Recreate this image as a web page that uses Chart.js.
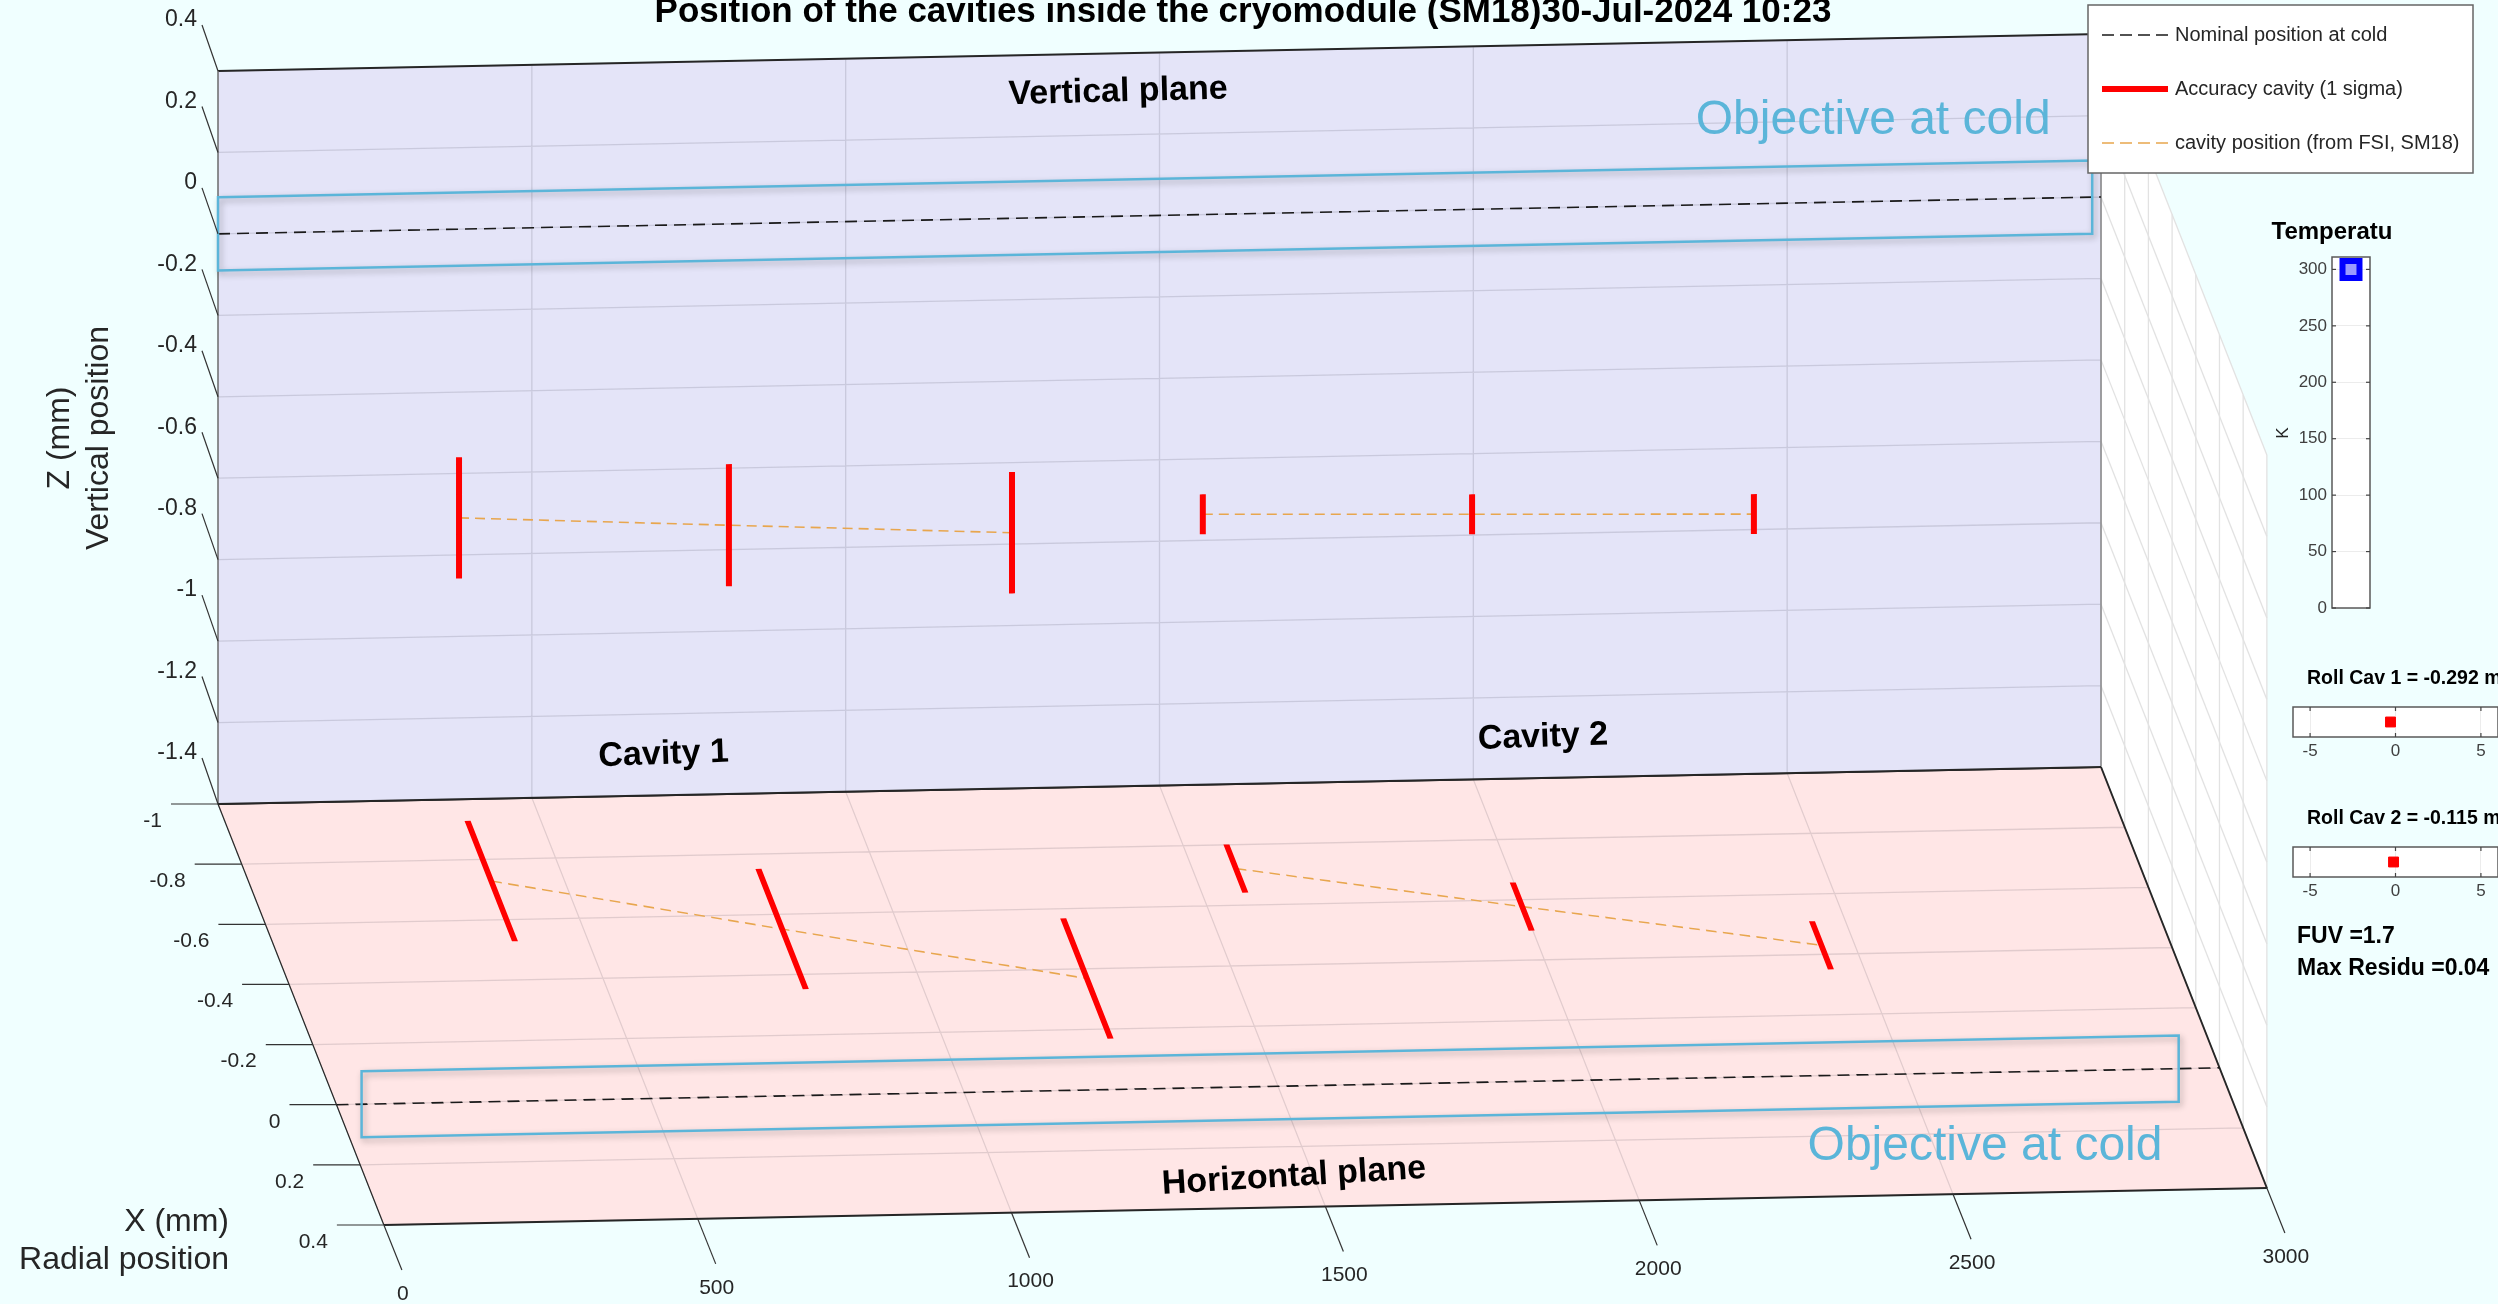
<!DOCTYPE html>
<html lang="en">
<head>
<meta charset="UTF-8">
<title>Position of the cavities inside the cryomodule</title>
<script src="https://cdn.jsdelivr.net/npm/chart.js"></script>
<style>
    html, body { margin: 0; padding: 0; overflow: hidden; background: #F0FFFF; }
    body { width: 2498px; height: 1304px; position: relative; font-family: "Liberation Sans", Arial, sans-serif; }
    canvas { position: absolute; }
    .note { position: absolute; left: 2297px; font-weight: bold; font-size: 23px; line-height: 28px; color: #000; white-space: nowrap; }
</style>
</head>
<body>
<canvas id="floor" width="2498" height="1304" style="left:0;top:0"></canvas>
<canvas id="back" width="2498" height="1304" style="left:0;top:0"></canvas>
<canvas id="temp" width="160" height="430" style="left:2240px;top:200px"></canvas>
<canvas id="roll1" width="270" height="120" style="left:2270px;top:650px"></canvas>
<canvas id="roll2" width="270" height="120" style="left:2270px;top:790px"></canvas>
<div class="note" style="top:921px">FUV =1.7</div>
<div class="note" style="top:953px">Max Residu =0.04</div>

<script>
// ---- data ----
const lengthTicks = [0, 500, 1000, 1500, 2000, 2500, 3000];
const zTicks = [-1.4, -1.2, -1, -0.8, -0.6, -0.4, -0.2, 0, 0.2, 0.4];
const xTicks = [-1, -0.8, -0.6, -0.4, -0.2, 0, 0.2, 0.4];

const cavity       = [1, 1, 1, 2, 2, 2];
const cavityLength = [384, 814, 1265, 1569, 1998, 2447];
const cavityZ      = [-0.709, -0.740, -0.772, -0.736, -0.749, -0.762];
const sigmaZ       = [0.149, 0.150, 0.149, 0.049, 0.049, 0.049];
const cavityX      = [-0.728, -0.551, -0.368, -0.721, -0.577, -0.430];
const sigmaX       = [0.20, 0.20, 0.20, 0.08, 0.08, 0.08];

const nominalLength = [0, 3000];
const nominalZ = [0, 0];
const nominalX = [0, 0];

// "Objective at cold" boxes
const objectiveLengthZ = [0, 2986];
const objectiveZ = [-0.09, 0.09];
const objectiveLengthX = [40, 2935];
const objectiveX = [-0.11, 0.11];

const temperatureK = [300];
const tempTicks = [0, 50, 100, 150, 200, 250, 300];
const rollCav = [-0.292, -0.115];
const rollTicks = [-5, 0, 5];

// ---- look ----
const FONT = '"Liberation Sans", Arial, Helvetica, sans-serif';
const INK = '#262626';
const LAVENDER = '#E4E4F8';
const PINK = '#FFE6E6';
const GRID = 'rgba(40, 40, 60, 0.14)';
const EDGE = '#262626';
const CYAN = '#5BB5D9';
const ORANGE = '#E8A64E';

// 3-D view: long axis tilts up to the right, radial axis runs down-right
const SHEAR_Y = -0.0196;
const SKEW_X = 0.394;

function backTransform(ctx, a) { ctx.transform(1, SHEAR_Y, 0, 1, 0, -SHEAR_Y * a.left); }
function floorTransform(ctx, a) { ctx.transform(1, SHEAR_Y, SKEW_X, 1, -SKEW_X * a.top, -SHEAR_Y * a.left); }

function backPt(chart, L, z) {
    const a = chart.chartArea;
    const px = chart.scales.x.getPixelForValue(L), py = chart.scales.y.getPixelForValue(z);
    return { x: px, y: py + SHEAR_Y * (px - a.left) };
}
function floorPt(chart, L, r) {
    const a = chart.chartArea;
    const px = chart.scales.x.getPixelForValue(L), py = chart.scales.y.getPixelForValue(r);
    return { x: px + SKEW_X * (py - a.top), y: py + SHEAR_Y * (px - a.left) };
}

function text(ctx, str, x, y, o) {
    ctx.save();
    ctx.font = o.font;
    ctx.fillStyle = o.color || INK;
    ctx.textAlign = o.align || 'center';
    ctx.textBaseline = o.baseline || 'middle';
    ctx.translate(x, y);
    if (o.angle) ctx.rotate(o.angle * Math.PI / 180);
    ctx.fillText(str, 0, 0);
    ctx.restore();
}
function stroke(ctx, pts, color, width, dash) {
    ctx.save();
    ctx.strokeStyle = color; ctx.lineWidth = width; ctx.setLineDash(dash || []);
    ctx.beginPath();
    pts.forEach((p, i) => i ? ctx.lineTo(p[0], p[1]) : ctx.moveTo(p[0], p[1]));
    ctx.stroke();
    ctx.restore();
}
function objectiveBox(ctx, c) {
    ctx.save();
    ctx.shadowColor = 'rgba(0,0,0,0.3)'; ctx.shadowBlur = 6; ctx.shadowOffsetX = 2; ctx.shadowOffsetY = 3;
    ctx.strokeStyle = CYAN; ctx.lineWidth = 2.5;
    ctx.beginPath();
    c.forEach((p, i) => i ? ctx.lineTo(p.x, p.y) : ctx.moveTo(p.x, p.y));
    ctx.closePath(); ctx.stroke();
    ctx.restore();
}
const tickLabel = v => String(Math.round(v * 10) / 10);

// ---- datasets ----
function bars(center, sigma) {
    const pts = [];
    cavityLength.forEach((L, i) => {
        pts.push({ x: L, y: center[i] + sigma[i] }, { x: L, y: center[i] - sigma[i] }, { x: L, y: null });
    });
    return pts;
}
function track(center) {
    const pts = [];
    cavityLength.forEach((L, i) => {
        if (i > 0 && cavity[i] !== cavity[i - 1]) pts.push({ x: L, y: null });
        pts.push({ x: L, y: center[i] });
    });
    return pts;
}
const lineSet = (data, color, width, dash) => ({
    data, showLine: true, borderColor: color, borderWidth: width, borderDash: dash || [],
    pointRadius: 0, clip: false, borderCapStyle: 'butt'
});
const noChrome = { legend: { display: false }, tooltip: { enabled: false } };

// ---- vertical plane (back wall) ----
const backPlane = {
    id: 'backPlane',
    beforeDatasetsDraw(chart) {
        const { ctx, chartArea: a, scales: { x, y } } = chart;
        ctx.save();
        backTransform(ctx, a);
        ctx.fillStyle = LAVENDER;
        ctx.fillRect(a.left, a.top, a.width, a.height);
        ctx.strokeStyle = GRID; ctx.lineWidth = 1.3;
        ctx.beginPath();
        zTicks.forEach(v => { const py = y.getPixelForValue(v); ctx.moveTo(a.left, py); ctx.lineTo(a.right, py); });
        lengthTicks.forEach(v => { const px = x.getPixelForValue(v); ctx.moveTo(px, a.top); ctx.lineTo(px, a.bottom); });
        ctx.stroke();
        stroke(ctx, [[a.left, a.top], [a.right, a.top]], EDGE, 2);
        stroke(ctx, [[a.left, a.top], [a.left, a.bottom]], '#707070', 1.5);
        stroke(ctx, [[a.right, a.top], [a.right, a.bottom]], '#8a8a8a', 1.5);
        stroke(ctx, [[a.left, a.bottom], [a.right, a.bottom]], EDGE, 2);
        ctx.restore();
    },
    beforeDatasetDraw(chart) { chart.ctx.save(); backTransform(chart.ctx, chart.chartArea); },
    afterDatasetDraw(chart) { chart.ctx.restore(); },
    afterDatasetsDraw(chart) {
        const { ctx, chartArea: a, scales: { y } } = chart;

        objectiveBox(ctx, [
            backPt(chart, objectiveLengthZ[0], objectiveZ[1]), backPt(chart, objectiveLengthZ[1], objectiveZ[1]),
            backPt(chart, objectiveLengthZ[1], objectiveZ[0]), backPt(chart, objectiveLengthZ[0], objectiveZ[0])
        ]);
        let p = backPt(chart, 2637, 0.198);
        text(ctx, 'Objective at cold', p.x, p.y, { font: `48px ${FONT}`, color: CYAN });

        const bold = `bold 34px ${FONT}`;
        p = backPt(chart, 1434, 0.305);
        text(ctx, 'Vertical plane', p.x, p.y, { font: bold, color: '#000', angle: -1.5 });
        p = backPt(chart, 710, -1.30);
        text(ctx, 'Cavity 1', p.x, p.y, { font: bold, color: '#000', angle: -2 });
        p = backPt(chart, 2111, -1.30);
        text(ctx, 'Cavity 2', p.x, p.y, { font: bold, color: '#000', angle: -2 });

        // Z ticks on the left edge
        zTicks.forEach(v => {
            const py = y.getPixelForValue(v);
            stroke(ctx, [[a.left, py], [a.left - 16, py - 46]], '#333', 1.2);
            text(ctx, tickLabel(v), a.left - 21, py - 51, { font: `23px ${FONT}`, align: 'right' });
        });
        text(ctx, 'Z (mm)', 60, 438, { font: `32px ${FONT}`, angle: -90 });
        text(ctx, 'Vertical position', 99, 438, { font: `32px ${FONT}`, angle: -90 });

        text(ctx, 'Position of the cavities inside the cryomodule (SM18)30-Jul-2024 10:23', 1243, 22,
            { font: `bold 35px ${FONT}`, color: '#000', baseline: 'alphabetic' });

        // legend
        ctx.fillStyle = '#fff';
        ctx.fillRect(2088, 5, 385, 168);
        ctx.strokeStyle = '#666'; ctx.lineWidth = 1.5;
        ctx.strokeRect(2088, 5, 385, 168);
        [['Nominal position at cold', '#1A1A1A', 1.6, [12, 6]],
         ['Accuracy cavity (1 sigma)', '#FF0000', 6, []],
         ['cavity position (from FSI, SM18)', ORANGE, 1.6, [12, 6]]].forEach((it, i) => {
            const ly = 35 + i * 54;
            stroke(ctx, [[2102, ly], [2168, ly]], it[1], it[2], it[3]);
            text(ctx, it[0], 2175, ly, { font: `20px ${FONT}`, align: 'left' });
        });
    }
};

const backChart = new Chart(document.getElementById('back'), {
    type: 'scatter',
    data: {
        datasets: [
            lineSet(bars(cavityZ, sigmaZ), '#FF0000', 6),
            lineSet(track(cavityZ), ORANGE, 1.6, [10, 6]),
            lineSet(nominalLength.map((L, i) => ({ x: L, y: nominalZ[i] })), '#1A1A1A', 1.6, [12, 7])
        ]
    },
    options: {
        responsive: false, animation: false,
        layout: { padding: { left: 218, top: 71, right: 2498 - 2101, bottom: 1304 - 804 } },
        plugins: noChrome,
        scales: {
            x: { type: 'linear', min: 0, max: 3000, display: false },
            y: { type: 'linear', min: -1.4, max: 0.4, display: false }
        }
    },
    plugins: [backPlane]
});

// ---- horizontal plane (floor) and end wall ----
const floorPlane = {
    id: 'floorPlane',
    beforeDatasetsDraw(chart) {
        const { ctx, chartArea: a, scales: { x, y } } = chart;
        const zs = backChart.scales.y;
        const lift = z => zs.getPixelForValue(z) - zs.getPixelForValue(zTicks[0]);
        const wall = (r, z) => { const f = floorPt(chart, 3000, r); return [f.x, f.y + lift(z)]; };
        const r0 = xTicks[0], r1 = xTicks[xTicks.length - 1];
        const z0 = zTicks[0], z1 = zTicks[zTicks.length - 1];

        // end wall at 3000 mm
        ctx.save();
        ctx.fillStyle = '#FFFFFF';
        ctx.beginPath();
        [wall(r0, z0), wall(r0, z1), wall(r1, z1), wall(r1, z0)].forEach((q, i) => i ? ctx.lineTo(q[0], q[1]) : ctx.moveTo(q[0], q[1]));
        ctx.closePath(); ctx.fill();
        ctx.restore();
        xTicks.forEach(r => stroke(ctx, [wall(r, z0), wall(r, z1)], '#E2E2E2', 1.3));
        zTicks.forEach(z => stroke(ctx, [wall(r0, z), wall(r1, z)], '#E2E2E2', 1.3));

        ctx.save();
        floorTransform(ctx, a);
        ctx.fillStyle = PINK;
        ctx.fillRect(a.left, a.top, a.width, a.height);
        ctx.strokeStyle = GRID; ctx.lineWidth = 1.3;
        ctx.beginPath();
        xTicks.forEach(v => { const py = y.getPixelForValue(v); ctx.moveTo(a.left, py); ctx.lineTo(a.right, py); });
        lengthTicks.forEach(v => { const px = x.getPixelForValue(v); ctx.moveTo(px, a.top); ctx.lineTo(px, a.bottom); });
        ctx.stroke();
        stroke(ctx, [[a.left, a.top], [a.right, a.top]], EDGE, 2);
        stroke(ctx, [[a.left, a.top], [a.left, a.bottom]], EDGE, 1.3);
        stroke(ctx, [[a.right, a.top], [a.right, a.bottom]], EDGE, 2);
        stroke(ctx, [[a.left, a.bottom], [a.right, a.bottom]], EDGE, 2);
        ctx.restore();
    },
    beforeDatasetDraw(chart) { chart.ctx.save(); floorTransform(chart.ctx, chart.chartArea); },
    afterDatasetDraw(chart) { chart.ctx.restore(); },
    afterDatasetsDraw(chart) {
        const { ctx, scales: { y } } = chart;

        const A = floorPt(chart, objectiveLengthX[0], (objectiveX[0] + objectiveX[1]) / 2);
        const B = floorPt(chart, objectiveLengthX[1], (objectiveX[0] + objectiveX[1]) / 2);
        const h = (y.getPixelForValue(objectiveX[1]) - y.getPixelForValue(objectiveX[0])) / 2;
        objectiveBox(ctx, [{ x: A.x, y: A.y - h }, { x: B.x, y: B.y - h }, { x: B.x, y: B.y + h }, { x: A.x, y: A.y + h }]);
        let p = floorPt(chart, 2580, 0.246);
        text(ctx, 'Objective at cold', p.x, p.y, { font: `48px ${FONT}`, color: CYAN });

        p = floorPt(chart, 1469, 0.299);
        text(ctx, 'Horizontal plane', p.x, p.y, { font: `bold 34px ${FONT}`, color: '#000', angle: -3.5 });

        // radial ticks on the left edge
        xTicks.forEach(v => {
            const q = floorPt(chart, 0, v);
            stroke(ctx, [[q.x - 47, q.y], [q.x, q.y]], '#333', 1.2);
            text(ctx, tickLabel(v), q.x - 56, q.y + 17, { font: `21px ${FONT}`, align: 'right' });
        });
        // length ticks on the front edge
        lengthTicks.forEach(v => {
            const q = floorPt(chart, v, xTicks[xTicks.length - 1]);
            stroke(ctx, [[q.x, q.y], [q.x + 18, q.y + 45]], '#333', 1.2);
            text(ctx, String(v), q.x + 19, q.y + 69, { font: `21px ${FONT}` });
        });
        text(ctx, 'X (mm)', 229, 1222, { font: `32px ${FONT}`, align: 'right' });
        text(ctx, 'Radial position', 229, 1260, { font: `32px ${FONT}`, align: 'right' });
    }
};

new Chart(document.getElementById('floor'), {
    type: 'scatter',
    data: {
        datasets: [
            lineSet(bars(cavityX, sigmaX), '#FF0000', 6),
            lineSet(track(cavityX), ORANGE, 1.6, [10, 6]),
            lineSet(nominalLength.map((L, i) => ({ x: L, y: nominalX[i] })), '#1A1A1A', 1.6, [12, 7])
        ]
    },
    options: {
        responsive: false, animation: false,
        layout: { padding: { left: 218, top: 804, right: 2498 - 2101, bottom: 1304 - 1225 } },
        plugins: noChrome,
        scales: {
            x: { type: 'linear', min: 0, max: 3000, display: false },
            y: { type: 'linear', min: -1, max: 0.4, reverse: true, display: false }
        }
    },
    plugins: [floorPlane]
});

// ---- small side panels ----
function framed(title, drawTitle) {
    return {
        id: 'framed',
        beforeDraw(chart) {
            const { ctx, chartArea: a } = chart;
            ctx.fillStyle = '#fff';
            ctx.fillRect(a.left, a.top, a.width, a.height);
        },
        afterDraw(chart) {
            const { ctx, chartArea: a } = chart;
            ctx.strokeStyle = '#595959'; ctx.lineWidth = 1.5;
            ctx.strokeRect(a.left, a.top, a.width, a.height);
            const axis = chart.scales.y.options.display ? chart.scales.y : chart.scales.x;
            axis.ticks.forEach(t => {
                const v = axis.getPixelForValue(t.value);
                if (axis.isHorizontal()) {
                    stroke(ctx, [[v, a.top], [v, a.top + 4]], '#444', 1.2);
                    stroke(ctx, [[v, a.bottom], [v, a.bottom - 4]], '#444', 1.2);
                } else {
                    stroke(ctx, [[a.left, v], [a.left + 4, v]], '#444', 1.2);
                    stroke(ctx, [[a.right, v], [a.right - 4, v]], '#444', 1.2);
                }
            });
            drawTitle(ctx, a, title);
        }
    };
}
const tickFont = { family: FONT, size: 17 };

new Chart(document.getElementById('temp'), {
    type: 'scatter',
    data: {
        datasets: [{
            data: temperatureK.map(t => ({ x: 1, y: t })),
            pointStyle: 'rect', pointRadius: 12, pointBorderWidth: 6,
            pointBackgroundColor: '#9A9AFF', pointBorderColor: '#0000FF', clip: false
        }]
    },
    options: {
        responsive: false, animation: false,
        layout: { padding: { left: 2, top: 57, right: 30, bottom: 22 } },
        plugins: noChrome,
        scales: {
            x: { display: false, min: 0, max: 2 },
            y: {
                min: 0, max: 311,
                afterBuildTicks: s => { s.ticks = tempTicks.map(v => ({ value: v })); },
                afterFit: s => { s.width = 90; },
                ticks: { font: tickFont, color: '#404040', padding: 5 },
                grid: { color: '#ECECEC', drawTicks: false },
                border: { display: false }
            }
        }
    },
    plugins: [framed('Temperatu', (ctx, a, t) => {
        text(ctx, t, a.left, a.top - 25, { font: `bold 24px ${FONT}`, color: '#000' });
        text(ctx, 'K', a.left - 49, a.top + 176, { font: `17px ${FONT}`, angle: -90 });
    })]
});

['roll1', 'roll2'].forEach((id, i) => {
    new Chart(document.getElementById(id), {
        type: 'scatter',
        data: {
            datasets: [{
                data: [{ x: rollCav[i], y: 1 }],
                pointStyle: 'rect', pointRadius: 7, pointBorderWidth: 1,
                pointBackgroundColor: '#FF0000', pointBorderColor: '#FF0000', clip: false
            }]
        },
        options: {
            responsive: false, animation: false,
            layout: { padding: { left: 23, top: 57, right: 42, bottom: 3 } },
            plugins: noChrome,
            scales: {
                x: {
                    min: -6, max: 6,
                    afterBuildTicks: s => { s.ticks = rollTicks.map(v => ({ value: v })); },
                    afterFit: s => { s.height = 30; },
                    ticks: { font: tickFont, color: '#404040', padding: 4 },
                    grid: { color: '#ECECEC', drawTicks: false },
                    border: { display: false }
                },
                y: { display: false, min: 0, max: 2 }
            }
        },
        plugins: [framed(`Roll Cav ${i + 1} = ${rollCav[i].toFixed(3)} mrad`, (ctx, a, t) => {
            text(ctx, t, a.left + 14, a.top - 28, { font: `bold 19.5px ${FONT}`, color: '#000', align: 'left' });
        })]
    });
});
</script>
</body>
</html>
